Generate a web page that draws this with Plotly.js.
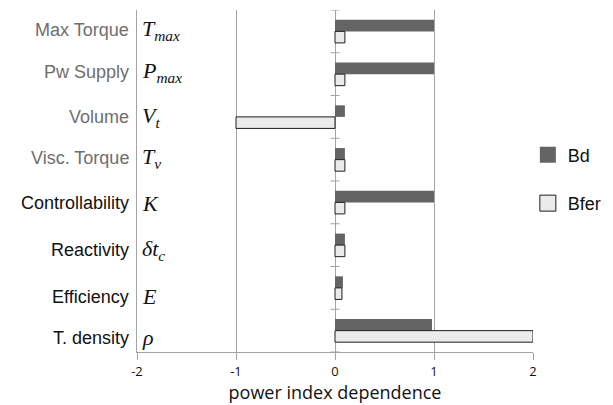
<!DOCTYPE html>
<html>
<head>
<meta charset="utf-8">
<script src="https://cdn.plot.ly/plotly-3.0.1.min.js"></script>
<style>
  html, body { margin: 0; padding: 0; background: #ffffff; }
  #chart { width: 613px; height: 405px; }
</style>
</head>
<body>
<div id="chart"></div>
<script>
// Properties of the drive and their symbols
const categories = ['Max Torque', 'Pw Supply', 'Volume', 'Visc. Torque',
                    'Controllability', 'Reactivity', 'Efficiency', 'T. density'];
const symbols = ['T<sub>max</sub>', 'P<sub>max</sub>', 'V<sub>t</sub>', 'T<sub>v</sub>',
                 'K', 'δt<sub>c</sub>', 'E', 'ρ'];

// Power index dependence for each actuator family
const bdValues   = [1, 1, 0.1, 0.1, 1, 0.1, 0.08, 0.98];
const bferValues = [0.1, 0.1, -1, 0.1, 0.1, 0.1, 0.07, 2];

const xTicks = [-2, -1, 0, 1, 2];

// Layout geometry
const W = 613, H = 405;
const margin = { l: 137, r: 80, t: 10, b: 53, autoexpand: false };
const gridColor = '#a3a3a3';

// Small vertical nudges (px, up is positive) for the row labels
const labelNudge = [1, 2, 0, 2, -1, -5, -9, -7];

// The first four property names are drawn in grey, the rest in black
const labelColor = (i) => (i < 4 ? '#6e6e6e' : '#111111');

const traces = [
  {
    type: 'bar', orientation: 'h', name: 'Bd',
    y: categories, x: bdValues,
    marker: { color: '#646464', line: { width: 0 } },
    showlegend: false, hoverinfo: 'x+y'
  },
  {
    type: 'bar', orientation: 'h', name: 'Bfer',
    y: categories, x: bferValues,
    marker: { color: '#ebebeb', line: { color: '#1e1e1e', width: 1 } },
    showlegend: false, hoverinfo: 'x+y'
  },
  // legend swatches
  {
    type: 'scatter', mode: 'markers', name: 'Bd', legendgroup: 'a',
    x: [null], y: [null],
    marker: { symbol: 'square', size: 19, color: '#646464', line: { width: 0 } }
  },
  {
    type: 'scatter', mode: 'markers', name: 'Bfer', legendgroup: 'b',
    x: [null], y: [null],
    marker: { symbol: 'square', size: 18, color: '#ebebeb', line: { color: '#1e1e1e', width: 1 } }
  }
];

// Category boundary ticks crossing the zero line
const boundaries = categories.map((_, i) => i - 0.5).concat([categories.length - 0.5]);
const boundaryTicks = boundaries.map((b) => ({
  type: 'line', xref: 'x', yref: 'y', layer: 'above',
  xsizemode: 'pixel', xanchor: 0, x0: -4.5, x1: 4.5,
  y0: b, y1: b,
  line: { color: gridColor, width: 1 }
}));

const nameNotes = categories.map((c, i) => ({
  xref: 'x', yref: 'y', x: xTicks[0], y: c,
  xanchor: 'right', yanchor: 'middle', xshift: -6, yshift: labelNudge[i],
  text: c, showarrow: false,
  font: { family: 'Liberation Sans, Arial, sans-serif', size: 18, color: labelColor(i) }
}));

const symbolNotes = symbols.map((s, i) => ({
  xref: 'x', yref: 'y', x: xTicks[0], y: categories[i],
  xanchor: 'left', yanchor: 'middle', xshift: 3, yshift: labelNudge[i],
  text: `<i>${s}</i>`, showarrow: false,
  font: { family: 'Liberation Serif, DejaVu Serif, serif', size: 22, color: '#111111' }
}));

const layout = {
  width: W, height: H,
  margin: margin,
  paper_bgcolor: '#ffffff', plot_bgcolor: '#ffffff',
  barmode: 'group', bargap: 0.46, bargroupgap: 0,
  font: { family: 'Liberation Sans, Arial, sans-serif', color: '#111111' },
  xaxis: {
    range: [xTicks[0], xTicks[xTicks.length - 1]],
    tickvals: xTicks, ticktext: xTicks.map(String),
    showgrid: true, gridcolor: gridColor, gridwidth: 1,
    zeroline: true, zerolinecolor: gridColor, zerolinewidth: 1,
    showline: true, linecolor: gridColor, linewidth: 1,
    ticks: 'outside', ticklen: 7, tickcolor: gridColor,
    tickfont: { family: 'Open Sans, sans-serif', size: 13, color: '#111111' },
    title: { text: 'power index dependence', standoff: 0,
             font: { family: 'Open Sans, sans-serif', size: 18, color: '#111111' } }
  },
  yaxis: {
    type: 'category', categoryarray: categories,
    range: [categories.length - 0.5, -0.5],
    showticklabels: false,
    showgrid: false, zeroline: false,
    showline: true, linecolor: gridColor, linewidth: 1,
    ticks: ''
  },
  legend: {
    x: 0.987, xanchor: 'left', y: 0.63, yanchor: 'top',
    traceorder: 'grouped', tracegroupgap: 22,
    font: { family: 'Liberation Sans, Arial, sans-serif', size: 18, color: '#111111' },
    itemwidth: 30, bgcolor: 'rgba(0,0,0,0)'
  },
  shapes: boundaryTicks,
  annotations: nameNotes.concat(symbolNotes),
  showlegend: true
};

Plotly.newPlot('chart', traces, layout, { displayModeBar: false, staticPlot: true });
</script>
</body>
</html>
